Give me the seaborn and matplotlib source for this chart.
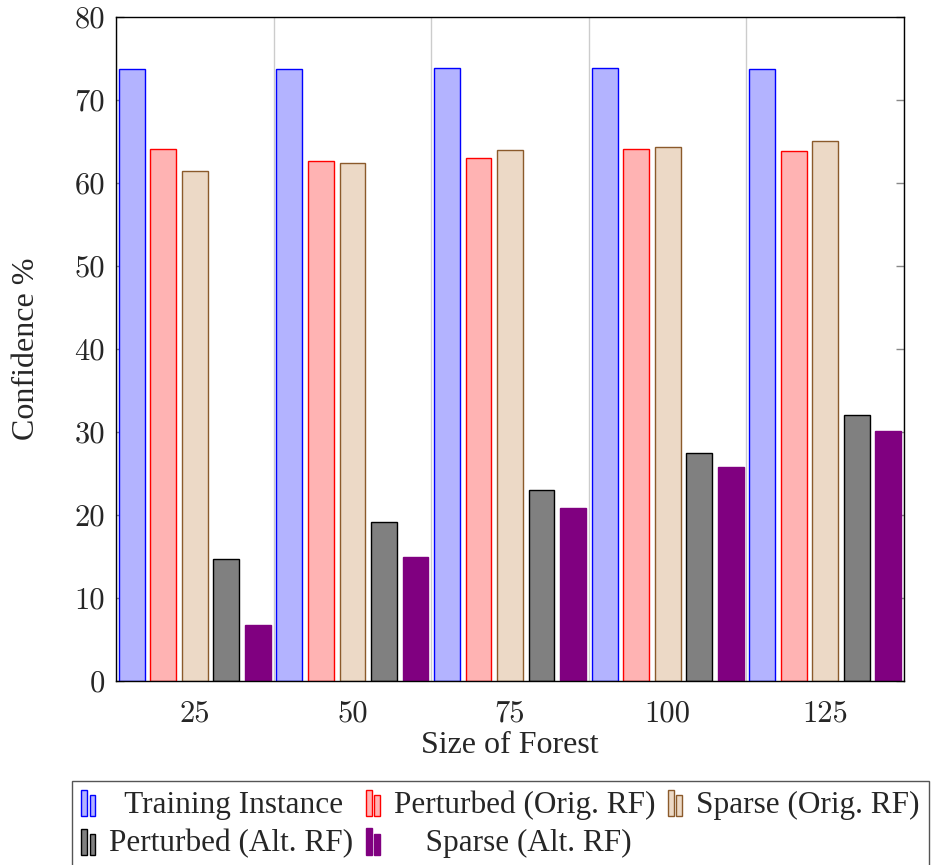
import pandas as pd
import matplotlib
matplotlib.use('Agg')
import matplotlib.pyplot as plt
import seaborn as sns
from matplotlib.patches import Patch, Rectangle
from matplotlib.legend_handler import HandlerBase

# data
forest_sizes = ['25', '50', '75', '100', '125']
series_names = ['Training Instance', 'Perturbed (Orig. RF)', 'Sparse (Orig. RF)',
                'Perturbed (Alt. RF)', 'Sparse (Alt. RF)']
training_instance = [73.7, 73.7, 73.8, 73.8, 73.7]
perturbed_orig = [64.1, 62.6, 63.0, 64.1, 63.9]
sparse_orig = [61.4, 62.4, 64.0, 64.4, 65.1]
perturbed_alt = [14.7, 19.2, 23.0, 27.5, 32.1]
sparse_alt = [6.8, 15.0, 20.9, 25.8, 30.1]

fill_colors = ['#b3b3ff', '#ffb3b3', '#ecd9c6', '#808080', '#800080']
edge_colors = ['#0000ff', '#ff0000', '#8b5a2b', '#000000', '#800080']

all_values = [training_instance, perturbed_orig, sparse_orig, perturbed_alt, sparse_alt]
rows = []
for name, vals in zip(series_names, all_values):
    for size, v in zip(forest_sizes, vals):
        rows.append({'size': size, 'series': name, 'confidence': v})
df = pd.DataFrame(rows)

sns.set_theme(style='white')
plt.rcParams['font.family'] = ['Liberation Serif', 'DejaVu Serif']

fig = plt.figure(figsize=(9.32, 8.65), dpi=100)
ax = fig.add_axes([0.1245, 0.2127, 0.8455, 0.7676])

sns.barplot(data=df, x='size', y='confidence', hue='series', order=forest_sizes,
            hue_order=series_names, palette=fill_colors, width=1.0, gap=0.18,
            errorbar=None, legend=False, ax=ax, saturation=1)

for cont, ec in zip(ax.containers, edge_colors):
    for bar in cont:
        bar.set_edgecolor(ec)
        bar.set_linewidth(1.0)

ax.set_xlim(-0.5, 4.5)
ax.set_ylim(0, 80)
ax.set_yticks(range(0, 81, 10))
ax.set_xticks(range(len(forest_sizes)))
ax.set_xticklabels(forest_sizes)
ax.set_xticks([i - 0.5 for i in range(len(forest_sizes) + 1)], minor=True)
ax.tick_params(axis='x', which='major', length=0, pad=14, labelsize=22)
ax.tick_params(axis='x', which='minor', length=9, direction='out', color='#888888', width=1)
ax.tick_params(axis='y', which='major', length=6, direction='in', left=True, right=True,
               color='#888888', width=1, labelsize=22, pad=8)
ax.grid(axis='x', which='minor', color='#cccccc', linewidth=1)
ax.grid(axis='y', visible=False)
for lab in ax.get_xticklabels() + ax.get_yticklabels():
    lab.set_fontfamily('cmr10')
for sp in ax.spines.values():
    sp.set_color('black')
    sp.set_linewidth(1.0)

ax.set_xlabel('Size of Forest', fontsize=23, labelpad=2)
ax.set_ylabel('Confidence %', fontsize=23, labelpad=24)


class TwoBarHandler(HandlerBase):
    def create_artists(self, legend, orig_handle, xdescent, ydescent, width, height, fontsize, trans):
        fc = orig_handle.get_facecolor()
        ec = orig_handle.get_edgecolor()
        bw = width * 0.3
        r1 = Rectangle((-xdescent, -ydescent - height * 0.15), bw, height * 1.2,
                       facecolor=fc, edgecolor=ec, lw=1, transform=trans)
        r2 = Rectangle((-xdescent + bw * 1.5, -ydescent - height * 0.15), bw, height * 0.95,
                       facecolor=fc, edgecolor=ec, lw=1, transform=trans)
        return [r1, r2]


# matplotlib fills legend columns first, reorder so rows read left to right
leg_order = [0, 3, 1, 4, 2]
# leading spaces imitate the centred entries of the original legend
leg_pad = {'Training Instance': '  ', 'Sparse (Alt. RF)': '    '}
handles = [Patch(facecolor=fill_colors[i], edgecolor=edge_colors[i]) for i in leg_order]
labels = [leg_pad.get(series_names[i], '') + series_names[i] for i in leg_order]
leg = fig.legend(handles, labels, loc='upper left', bbox_to_anchor=(0.077, 0.097),
                 borderaxespad=0, ncol=3, fontsize=22.5, frameon=True, fancybox=False,
                 framealpha=1, edgecolor='#555555', handlelength=0.6, handleheight=0.7,
                 handletextpad=0.3, columnspacing=0.4, borderpad=0.3, labelspacing=0.3,
                 handler_map={Patch: TwoBarHandler()})
leg.get_frame().set_linewidth(1.0)

fig.savefig('out.png', dpi=100)
